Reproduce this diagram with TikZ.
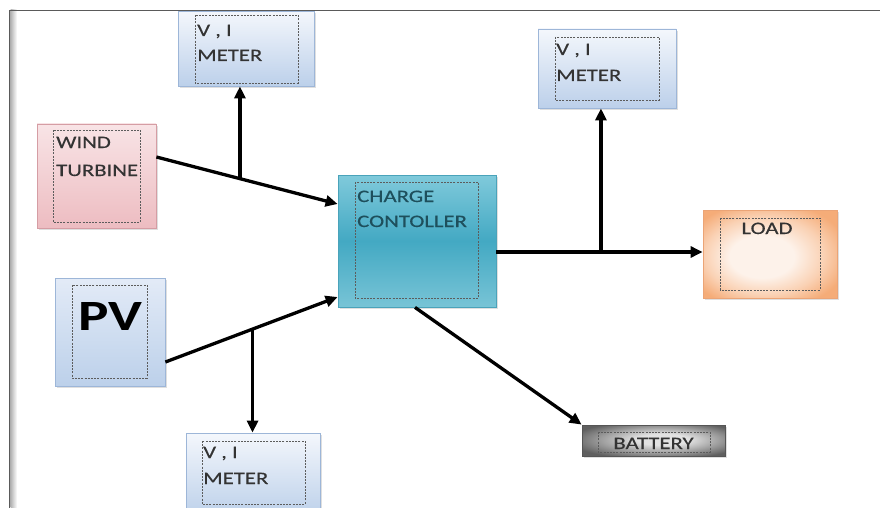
\documentclass[tikz,border=0pt]{standalone}
\usepackage{fontspec}
\usepackage{graphicx}
\setmainfont{Carlito}
\newfontfamily\lblfont[FakeBold=0.35]{Carlito}
\usetikzlibrary{arrows.meta,shadows}

\definecolor{meterTop}{HTML}{F4F7FC}
\definecolor{meterBot}{HTML}{BCD0EA}
\definecolor{meterEdge}{HTML}{9DB6D8}
\definecolor{pvTop}{HTML}{E3EBF7}
\definecolor{windTop}{HTML}{F8E4E6}
\definecolor{windBot}{HTML}{EDBCC1}
\definecolor{windEdge}{HTML}{D59DA4}
\definecolor{ccTop}{HTML}{80CADB}
\definecolor{ccMid}{HTML}{43A9C3}
\definecolor{ccBot}{HTML}{78C4D6}
\definecolor{ccEdge}{HTML}{4AA3BA}
\definecolor{ccText}{HTML}{1E4F5C}
\definecolor{loadIn}{HTML}{FDF2EA}
\definecolor{loadMid}{HTML}{FAD2B5}
\definecolor{loadOut}{HTML}{F5AC78}
\definecolor{loadEdge}{HTML}{EBA476}
\definecolor{batIn}{HTML}{E2E2E2}
\definecolor{batMid}{HTML}{A2A2A2}
\definecolor{batOut}{HTML}{5F5F5F}
\definecolor{batEdge}{HTML}{555555}
\definecolor{txt}{HTML}{333333}
\definecolor{dashGray}{HTML}{5C5C5C}
\definecolor{frameGray}{HTML}{5A5A5A}

% soft radial fills: light centre, coloured rim towards the corners
\pgfdeclareradialshading{loadglow}{\pgfpoint{-4bp}{-2bp}}{%
  color(0bp)=(loadIn); color(12bp)=(loadIn); color(22bp)=(loadMid);
  color(31bp)=(loadOut); color(50bp)=(loadOut)}
\pgfdeclareradialshading{batglow}{\pgfpoint{4bp}{2bp}}{%
  color(0bp)=(batIn); color(9bp)=(batIn); color(20bp)=(batMid);
  color(31bp)=(batOut); color(50bp)=(batOut)}

\newcommand{\widetxt}[1]{\scalebox{1.3}[1]{#1}}

\begin{document}
\begin{tikzpicture}[x=1pt,y=-1pt,
  box/.style={rectangle, draw, line width=0.8pt, inner sep=0pt,
    drop shadow={opacity=0.25, shadow xshift=1.5pt, shadow yshift=-2pt}},
  meterbox/.style={box, draw=meterEdge, top color=meterTop, bottom color=meterBot},
  pvbox/.style={box, draw=meterEdge, top color=pvTop, bottom color=meterBot},
  windbox/.style={box, draw=windEdge, top color=windTop, bottom color=windBot},
  ccbox/.style={box, draw=ccEdge, top color=ccTop, bottom color=ccBot, middle color=ccMid},
  loadbox/.style={box, draw=loadEdge, shading=loadglow},
  batbox/.style={box, draw=batEdge, shading=batglow},
  inner/.style={draw=dashGray, line width=0.8pt, dash pattern=on 2pt off 1.2pt},
  lbl/.style={anchor=base west, inner sep=0pt, font=\lblfont\fontsize{17.5}{20}\selectfont, text=txt},
  conn/.style={line width=3.3pt, black},
  arr/.style={conn, -{Triangle[length=12pt,width=11pt]}}
]
\useasboundingbox (0,0) rectangle (880,508);
\fill[white] (0,0) rectangle (880,508);

\begin{scope}
\clip (0,0) rectangle (880,508);

% faint shade beside the left frame edge
\shade[left color=black!30, right color=white] (10.5,10) rectangle (17,508);

% boxes
\node[meterbox, minimum width=136pt, minimum height=75pt] (mtl) at (246,48.5) {};
\node[windbox,  minimum width=119pt, minimum height=104pt] (wt) at (96.5,176) {};
\node[pvbox,    minimum width=110pt, minimum height=108pt] (pv) at (110,332) {};
\node[ccbox,    minimum width=158pt, minimum height=132pt] (cc) at (417,241) {};
\node[loadbox,  minimum width=134pt, minimum height=88pt] (load) at (770,254) {};
\node[batbox,   minimum width=143pt, minimum height=31pt] (bat) at (653.5,440.5) {};
\node[meterbox, minimum width=134pt, minimum height=84pt] (mbl) at (253,475) {};
\node[meterbox, minimum width=138pt, minimum height=79pt] (mtr) at (607,68.5) {};

% dashed inner frames
\draw[inner] (195,15) rectangle (298,83);
\draw[inner] (53,130) rectangle (140,222);
\draw[inner] (72,285) rectangle (147,378);
\draw[inner] (355,182) rectangle (478,298);
\draw[inner] (720,218) rectangle (820,290);
\draw[inner] (598,432) rectangle (710,452);
\draw[inner] (202,441) rectangle (305,504);
\draw[inner] (555,37) rectangle (659,100);

% labels
\node[lbl] (mtl1) at (197,36) {\widetxt{V , I}};
\node[lbl] (mtl2) at (197,61) {\widetxt{METER}};
\node[lbl] (wt1) at (56,148) {\widetxt{WIND}};
\node[lbl] (wt2) at (56,176) {\widetxt{TURBINE}};
\node[anchor=base west, inner sep=0pt] (pvl) at (78,330) {\resizebox{64pt}{28pt}{\bfseries PV}};
\node[lbl, text=ccText] (cc1) at (357,202) {\widetxt{CHARGE}};
\node[lbl, text=ccText] (cc2) at (357,227) {\widetxt{CONTOLLER}};
\node[lbl, anchor=base] (ld) at (767,234) {\widetxt{LOAD}};
\node[lbl, anchor=base] (bt) at (653.5,449) {\widetxt{BATTERY}};
\node[lbl] (mbl1) at (203,458) {\widetxt{V , I}};
\node[lbl] (mbl2) at (203,484) {\widetxt{METER}};
\node[lbl] (mtr1) at (556,55) {\widetxt{V , I}};
\node[lbl] (mtr2) at (556,81) {\widetxt{METER}};

% connectors
\draw[arr] ([yshift=19pt]wt.east) -- coordinate[pos=0.461] (jw) ([yshift=37pt]cc.west);
\draw[arr] (jw) -- (jw |- mtl.south);

\draw[arr] ([yshift=-30pt]pv.east) -- coordinate[pos=0.506] (jp) ([yshift=-56pt]cc.west);
\draw[arr] (jp) -- (jp |- mbl.north);

\coordinate (ccout) at ([yshift=-11pt]cc.east);
\draw[arr] (ccout) -- coordinate[pos=0.507] (jl) (ccout -| load.west);
\draw[arr] (jl) -- (jl |- mtr.south);

\draw[arr] ([xshift=-2pt]cc.south) -- (bat.north west);

% outer frame
\draw[frameGray, line width=1.6pt] (880,10.5) -- (9.5,10.5) -- (9.5,508);
\end{scope}
\end{tikzpicture}
\end{document}
